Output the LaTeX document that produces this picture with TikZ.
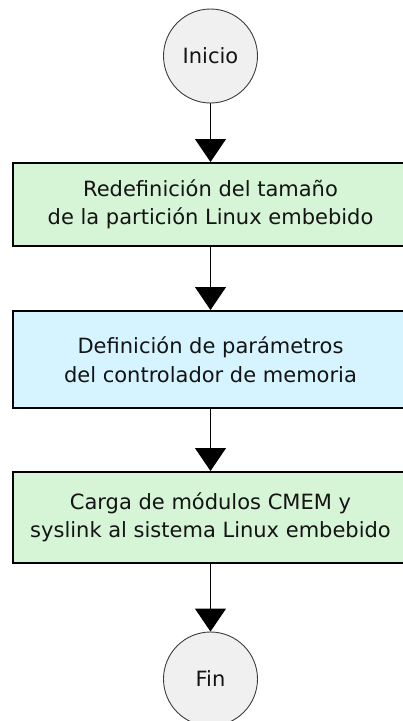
\documentclass[tikz,border=0pt]{standalone}
\usepackage{fontspec}
\setmainfont{DejaVu Sans}
\usetikzlibrary{arrows.meta}
\definecolor{termfill}{RGB}{240,240,240}
\definecolor{termline}{RGB}{60,60,60}
\definecolor{stepgreen}{RGB}{214,244,214}
\definecolor{stepcyan}{RGB}{214,244,255}
\definecolor{inktext}{RGB}{20,20,20}
\tikzset{
  terminal/.style={circle, draw=termline, line width=0.9pt, fill=termfill,
    minimum size=94pt, inner sep=0pt, text=inktext,
    font=\fontsize{21}{28.5}\selectfont},
  stepbox/.style={rectangle, draw=black, line width=2pt,
    minimum width=396pt, inner sep=0pt, align=center, text=inktext,
    font=\fontsize{21}{28.5}\selectfont},
  flow/.style={draw=black, line width=1pt,
    -{Triangle[width=31pt,length=23pt]}},
}
\begin{document}
\begin{tikzpicture}[x=1pt,y=-1pt]
  \useasboundingbox (0,0) rectangle (403,721);
  \clip (0,0) rectangle (403,721);
  \node[terminal] (inicio) at (210.5,56) {Inicio};
  \node[stepbox, fill=stepgreen, minimum height=83pt] (redef) at (210.5,204.5)
    {Redefinición del tamaño\\de la partición Linux embebido};
  \node[stepbox, fill=stepcyan, minimum height=97pt] (param) at (210.5,359.5)
    {Definición de parámetros\\del controlador de memoria};
  \node[stepbox, fill=stepgreen, minimum height=91pt] (carga) at (210.5,517.5)
    {Carga de módulos CMEM y\\syslink al sistema Linux embebido};
  \node[terminal] (fin) at (210.5,679) {Fin};
  \draw[flow] (inicio) -- (redef);
  \draw[flow] (redef) -- (param);
  \draw[flow] (param) -- (carga);
  \draw[flow] (carga) -- (fin);
\end{tikzpicture}
\end{document}
